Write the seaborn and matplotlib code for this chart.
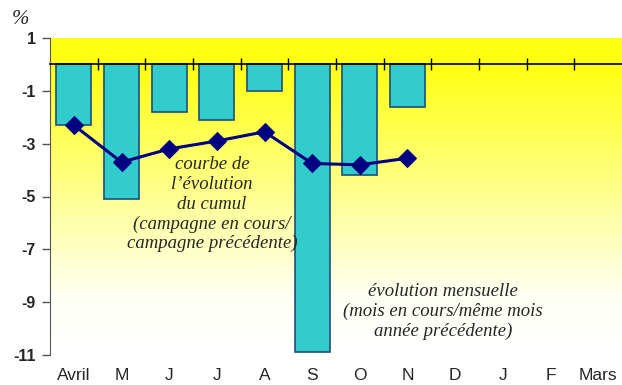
import numpy as np
import pandas as pd
import matplotlib
matplotlib.use('Agg')
import matplotlib.pyplot as plt
from matplotlib.colors import LinearSegmentedColormap
import seaborn as sns

# data
months = ['Avril', 'M', 'J', 'J', 'A', 'S', 'O', 'N', 'D', 'J', 'F', 'Mars']
monthly = [-2.3, -5.1, -1.8, -2.1, -1.0, -10.9, -4.2, -1.6]
cumul = [-2.3, -3.7, -3.2, -2.9, -2.55, -3.75, -3.8, -3.55]
y_ticks = [1, -1, -3, -5, -7, -9, -11]

keys = [f'{m}_{i}' for i, m in enumerate(months)]
df_bars = pd.DataFrame({'mois': keys[:len(monthly)], 'evol': monthly})
df_line = pd.DataFrame({'pos': range(len(cumul)), 'cumul': cumul})

sns.set_style('white')
plt.rcParams['font.family'] = ['Liberation Sans', 'DejaVu Sans']
serif = ['Liberation Serif', 'DejaVu Serif']

fig = plt.figure(figsize=(6.22, 3.85), dpi=100)
ax = fig.add_axes([50 / 622, 1 - 355 / 385, 1 - 50 / 622, (355 - 38) / 385])

ymin, ymax = -11, 1

# background: solid yellow above zero, fading to white below
cmap = LinearSegmentedColormap.from_list('yw', [(0, '#FFFFFF'), (0.2, '#FFFFF4'), (1, '#FFFF10')])
grad = np.linspace(0, 1, 256).reshape(-1, 1)
ax.imshow(grad, extent=(-0.5, 11.5, ymin, 0), origin='lower', aspect='auto',
          cmap=cmap, vmin=0, vmax=1, zorder=0)
ax.axhspan(0, ymax, color='#FFFF10', zorder=0, lw=0)

sns.barplot(data=df_bars, x='mois', y='evol', order=keys, color='#33CCCC',
            edgecolor='#1F4E79', linewidth=1.2, width=0.73, saturation=1,
            ax=ax, zorder=2)
sns.lineplot(data=df_line, x='pos', y='cumul', color='#000080', marker='D',
             markersize=9.5, markeredgecolor='#000080', linewidth=2.2, ax=ax, zorder=3)

ax.set_xlim(-0.5, 11.5)
ax.set_ylim(ymin, ymax)
ax.set_xlabel('')
ax.set_ylabel('')

# category labels at bottom
ax.set_xticks(range(len(months)))
ax.set_xticklabels(months)
ax.tick_params(axis='x', which='major', length=0, pad=9, labelsize=12.5)

# zero line with boundary ticks
ax.spines['top'].set_position(('data', 0))
ax.spines['top'].set_color('black')
ax.spines['top'].set_linewidth(1.2)
ax.spines['bottom'].set_visible(False)
ax.spines['right'].set_visible(False)
ax.spines['left'].set_color('#555555')
ax.spines['left'].set_zorder(4)
ax.spines['top'].set_zorder(4)
ax.set_xticks(np.arange(0.5, 11.5, 1), minor=True)
ax.tick_params(axis='x', which='minor', top=True, bottom=False, direction='inout',
               length=9, width=1, color='black', labeltop=False)

ax.set_yticks(y_ticks)
ax.set_yticklabels([str(v) for v in y_ticks], fontsize=11.5, fontweight='bold')
ax.tick_params(axis='y', left=True, length=6, color='#555555', width=1, pad=4)

ax.text(2.9, -5.3, "courbe de\nl\u2019\u00e9volution\ndu cumul\n(campagne en cours/\ncampagne pr\u00e9c\u00e9dente)",
        ha='center', va='center', fontsize=13.5, style='italic', family=serif,
        linespacing=1.2, zorder=5)
ax.text(7.74, -9.35, "\u00e9volution mensuelle\n(mois en cours/m\u00eame mois\nann\u00e9e pr\u00e9c\u00e9dente)",
        ha='center', va='center', fontsize=13.5, style='italic', family=serif,
        linespacing=1.2, zorder=5)

fig.text(12 / 622, 1 - 20 / 385, '%', fontsize=15, style='italic',
         family=serif, va='center', ha='left')

fig.savefig('out.png', dpi=100)
